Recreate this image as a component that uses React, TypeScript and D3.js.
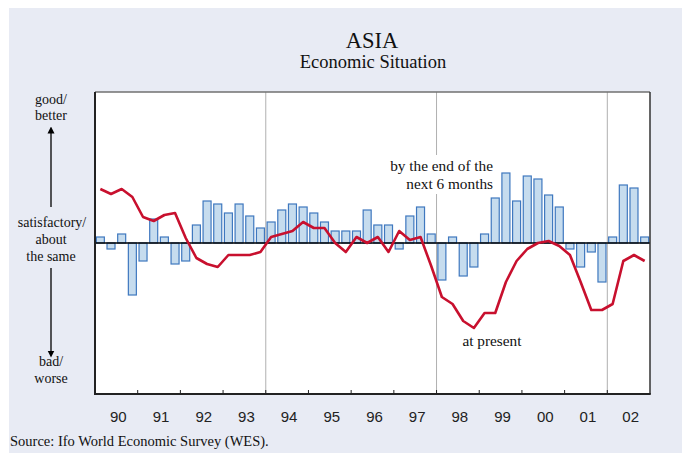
import React from "react";
import * as d3 from "d3";

const years = ["90","91","92","93","94","95","96","97","98","99","00","01","02"];
const startYear = 1990;
// Expectations for the next 6 months (quarterly bars)
const expectations = [
  6,-6,9,-52, -18,24,6,-21, -18,18,42,39, 30,39,27,15,
  21,33,39,36, 30,21,12,12, 12,33,18,18, -6,27,36,9,
  -37,6,-33,-24, 9,45,70,42, 67,64,48,36, -6,-24,-9,-39,
  6,58,55,6,
];
// Present situation (quarterly line)
const present = [
  54,49,54,46, 26,22,28,30, 5,-15,-21,-24, -12,-12,-12,-9,
  6,9,12,21, 15,15,0,-9, 6,0,6,-9, 12,3,6,-23,
  -54,-61,-78,-85, -70,-70,-39,-18, -6,0,2,-3, -12,-39,-67,-67,
  -61,-18,-12,-18,
];
const dividerYears = [1994, 1998, 2002];

const W = 688, H = 453;
const L = 95, R = 650, T = 92, B = 394;

export default function App() {
  const x = d3.scaleLinear().domain([startYear, startYear + years.length]).range([L, R]);
  const y = d3.scaleLinear().domain([-151, 151]).range([B, T]);
  const q = (x(startYear + 0.25) - x(startYear));
  const bw = q * 0.75;
  const qx = (i: number) => x(startYear + (i + 0.5) / 4);
  const line = d3.line<number>().x((_, i) => qx(i)).y((d) => y(d));
  const serif = "'Liberation Serif', 'Times New Roman', serif";
  const sans = "'Liberation Sans', Arial, sans-serif";
  const tickYears = d3.range(startYear + 1, startYear + years.length);

  return (
    <svg width={W} height={H} style={{ position: "absolute", left: 0, top: 0 }}>
      <defs>
        <marker id="ah" viewBox="0 0 10 10" refX="5" refY="5" markerWidth="7" markerHeight="9" orient="auto-start-reverse" markerUnits="userSpaceOnUse">
          <path d="M0,0 L10,5 L0,10 z" fill="#000" />
        </marker>
      </defs>
      <rect x={0} y={0} width={W} height={H} fill="#fff" />
      <rect x={9} y={8} width={673} height={445} fill="#e8ebf4" />
      <text x={372} y={48} textAnchor="middle" fontFamily={serif} fontSize={22.5} fill="#111">ASIA</text>
      <text x={373} y={68} textAnchor="middle" fontFamily={serif} fontSize={18.5} fill="#111">Economic Situation</text>

      <rect x={L} y={T} width={R - L} height={B - T} fill="#fff" />
      {dividerYears.map((yr) => (
        <line key={yr} x1={x(yr)} x2={x(yr)} y1={T} y2={B} stroke="#b0b0b0" strokeWidth={1} />
      ))}

      {expectations.map((v, i) => (
        <rect key={i} x={qx(i) - bw / 2} y={Math.min(y(v), y(0))} width={bw}
          height={Math.abs(y(v) - y(0))} fill="#c6dcee" stroke="#3f78bf" strokeWidth={1.2} />
      ))}
      <line x1={L} x2={R} y1={y(0)} y2={y(0)} stroke="#000" strokeWidth={1.5} />
      <path d={line(present) || ""} fill="none" stroke="#c8102e" strokeWidth={2.6} strokeLinejoin="round" />

      <rect x={388} y={155} width={108} height={39} fill="#fff" />
      <text x={493} y={171} textAnchor="end" fontFamily={serif} fontSize={15.3} fill="#111">by the end of the</text>
      <text x={493} y={189} textAnchor="end" fontFamily={serif} fontSize={15.3} fill="#111">next 6 months</text>
      <text x={492} y={346} textAnchor="middle" fontFamily={serif} fontSize={15.3} fill="#111">at present</text>

      {/* frame */}
      <line x1={L} x2={R} y1={T} y2={T} stroke="#707070" strokeWidth={1.5} />
      <line x1={R} x2={R} y1={T} y2={B} stroke="#333" strokeWidth={1.5} />
      <line x1={L} x2={L} y1={T} y2={B} stroke="#222" strokeWidth={2} />
      <line x1={L - 1} x2={R + 0.75} y1={B} y2={B} stroke="#222" strokeWidth={2} />
      {tickYears.map((yr) => (
        <line key={yr} x1={x(yr)} x2={x(yr)} y1={B} y2={B - 4} stroke="#222" strokeWidth={1} />
      ))}
      {years.map((lab, i) => (
        <text key={lab} x={x(startYear + i + 0.5) + 2} y={422} textAnchor="middle" fontFamily={sans} fontSize={15} fill="#222">{lab}</text>
      ))}

      {/* left scale labels */}
      <g fontFamily={serif} fontSize={14} fill="#111" textAnchor="middle">
        <text x={51} y={104}>good/</text>
        <text x={51} y={120}>better</text>
        <text x={52} y={227}>satisfactory/</text>
        <text x={51} y={244}>about</text>
        <text x={51} y={261}>the same</text>
        <text x={51} y={366}>bad/</text>
        <text x={51} y={383}>worse</text>
      </g>
      <line x1={51} x2={51} y1={207} y2={130} stroke="#000" strokeWidth={1.3} markerEnd="url(#ah)" />
      <line x1={51} x2={51} y1={268} y2={354} stroke="#000" strokeWidth={1.3} markerEnd="url(#ah)" />

      <text x={10} y={446} fontFamily={serif} fontSize={14.5} fill="#111">Source: Ifo World Economic Survey (WES).</text>
    </svg>
  );
}
